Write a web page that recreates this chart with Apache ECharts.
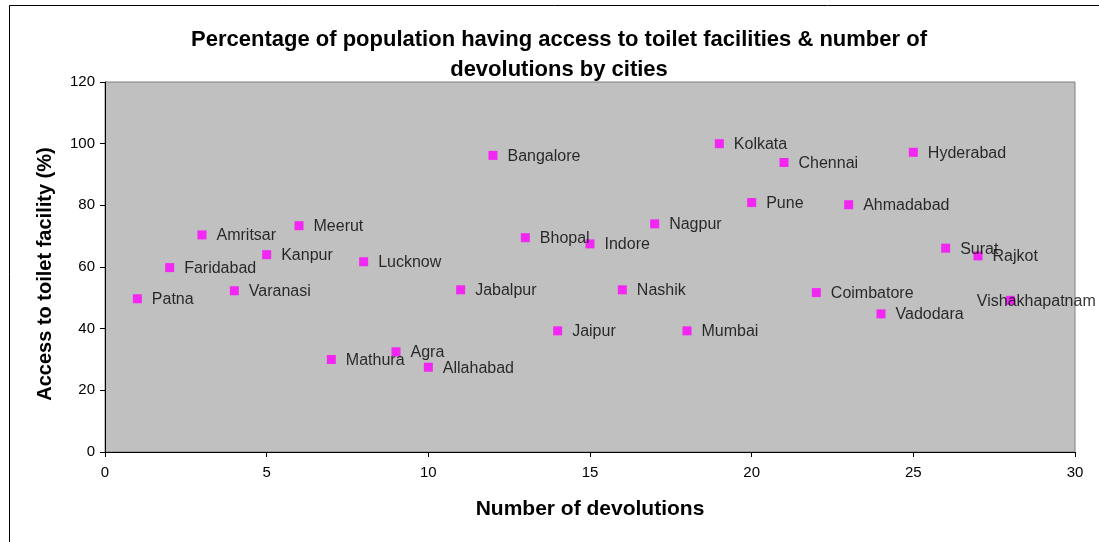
<!DOCTYPE html>
<html>
<head>
<meta charset="utf-8">
<script src="https://cdn.jsdelivr.net/npm/echarts@6/dist/echarts.min.js"></script>
<style>
  html, body { margin: 0; padding: 0; background: #fff; }
  #chart { width: 1099px; height: 542px; }
</style>
</head>
<body>
<div id="chart"></div>
<script>
// city names, devolutions (x) and toilet access % (y)
var cities = ['Patna','Faridabad','Amritsar','Varanasi','Kanpur','Meerut','Mathura','Lucknow','Agra','Allahabad',
              'Jabalpur','Bangalore','Bhopal','Jaipur','Indore','Nashik','Nagpur','Mumbai','Kolkata','Pune',
              'Chennai','Coimbatore','Ahmadabad','Vadodara','Hyderabad','Surat','Rajkot','Vishakhapatnam'];
var devolutions = [1,2,3,4,5,6,7,8,9,10,11,12,13,14,15,16,17,18,19,20,21,22,23,24,25,26,27,28];
var access = [49.7,59.8,70.4,52.3,64.0,73.4,30.0,61.7,32.5,27.5,
              52.6,96.2,69.5,39.3,67.5,52.6,74.0,39.3,100.0,80.9,
              93.9,51.7,80.2,44.8,97.2,66.1,63.6,49.2];
var xTicks = [0, 5, 10, 15, 20, 25, 30];
var yTicks = [0, 20, 40, 60, 80, 100, 120];

var points = [];
for (var i = 0; i < cities.length; i++) {
    var p = { name: cities[i], value: [devolutions[i], access[i]] };
    // last label is pulled back so it stays inside the picture
    if (cities[i] === 'Vishakhapatnam') {
        p.label = { offset: [-48, 1] };
    }
    points.push(p);
}

var myChart = echarts.init(document.getElementById('chart'));
var option = {
    animation: false,
    textStyle: { fontFamily: 'Liberation Sans, Arial, sans-serif' },
    title: {
        text: 'Percentage of population having access to toilet facilities & number of\ndevolutions by cities',
        left: 554,
        textAlign: 'center',
        top: 20,
        textStyle: {
            fontSize: 22,
            fontWeight: 'bold',
            color: '#000',
            lineHeight: 30
        }
    },
    graphic: [{
        type: 'rect',
        shape: { x: 9.5, y: 5.5, width: 1200, height: 600 },
        style: { fill: 'none', stroke: '#000', lineWidth: 1 },
        silent: true
    }],
    grid: {
        left: 105,
        right: 24,
        top: 82,
        bottom: 90,
        show: true,
        backgroundColor: '#c0c0c0',
        borderColor: '#808080',
        borderWidth: 1
    },
    xAxis: {
        type: 'value',
        min: xTicks[0],
        max: xTicks[xTicks.length - 1],
        interval: 5,
        name: 'Number of devolutions',
        nameLocation: 'middle',
        nameGap: 47,
        nameTextStyle: { fontSize: 21, fontWeight: 'bold', color: '#000' },
        axisLine: { lineStyle: { color: '#000', width: 1 } },
        axisTick: { show: true, length: 5, lineStyle: { color: '#000' } },
        axisLabel: { fontSize: 15, color: '#000', margin: 13 },
        splitLine: { show: false }
    },
    yAxis: {
        type: 'value',
        min: yTicks[0],
        max: yTicks[yTicks.length - 1],
        interval: 20,
        name: 'Access to toilet facility (%)',
        nameLocation: 'middle',
        nameGap: 50,
        nameTextStyle: { fontSize: 20, fontWeight: 'bold', color: '#000', padding: [0, 14, 0, 0] },
        axisLine: { show: true, lineStyle: { color: '#000', width: 1 } },
        axisTick: { show: true, length: 5, lineStyle: { color: '#000' } },
        axisLabel: { fontSize: 15, color: '#000', margin: 10 },
        splitLine: { show: false }
    },
    series: [{
        type: 'scatter',
        symbol: 'rect',
        symbolSize: 9,
        itemStyle: { color: '#ff00ff' },
        data: points,
        label: {
            show: true,
            position: 'right',
            distance: 10,
            offset: [0, 1],
            formatter: '{b}',
            fontSize: 16,
            color: '#000'
        }
    }]
};
myChart.setOption(option);
</script>
</body>
</html>
